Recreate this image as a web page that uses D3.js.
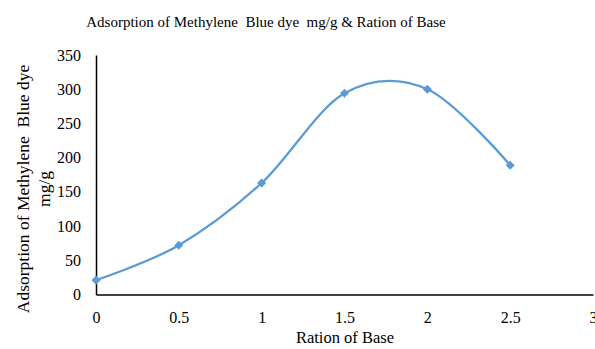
<!DOCTYPE html>
<html>
<head>
<meta charset="utf-8">
<script src="https://cdn.jsdelivr.net/npm/d3@7"></script>
<style>
  html, body { margin: 0; padding: 0; background: #fff; }
  svg { display: block; }
  text { font-family: "Liberation Serif", "Times New Roman", serif; fill: #000; }
</style>
</head>
<body>
<svg id="chart" width="595" height="349"></svg>
<script>
// Ratio of base vs. adsorbed Methylene Blue (mg/g)
const ratios = [0, 0.5, 1, 1.5, 2, 2.5];
const adsorption = [21, 72, 163, 294, 300, 189];
const xTicks = [0, 0.5, 1, 1.5, 2, 2.5, 3];
const yTicks = [0, 50, 100, 150, 200, 250, 300, 350];

const titleText = "Adsorption of Methylene\u00A0 Blue dye\u00A0 mg/g & Ration of Base";
const yTitleLines = ["Adsorption of Methylene\u00A0 Blue dye", "mg/g"];
const xTitleText = "Ration of Base";

const svg = d3.select("#chart");
const plot = { left: 96, right: 593, top: 55, bottom: 294.5 };

const x = d3.scaleLinear().domain([0, 3]).range([plot.left, plot.right]);
const y = d3.scaleLinear().domain([0, 350]).range([plot.bottom, plot.top]);

// Title
svg.append("text")
  .attr("x", 266).attr("y", 27)
  .attr("text-anchor", "middle")
  .style("font-size", "15px")
  .text(titleText);

// Y axis
const yAxis = svg.append("g")
  .attr("transform", `translate(${plot.left},0)`)
  .call(d3.axisLeft(y).tickValues(yTicks).tickSize(0).tickPadding(15));
yAxis.select(".domain").attr("stroke", "#000").attr("stroke-width", 1.5);
yAxis.selectAll("text").style("font-size", "16px")
  .style("font-family", "'Liberation Serif', serif");

// X axis
const xAxis = svg.append("g")
  .attr("transform", `translate(0,${plot.bottom})`)
  .call(d3.axisBottom(x).tickValues(xTicks).tickSize(0).tickPadding(17)
    .tickFormat(d3.format("")));
xAxis.select(".domain").attr("stroke", "#000").attr("stroke-width", 1.5);
xAxis.selectAll("text").style("font-size", "16px")
  .style("font-family", "'Liberation Serif', serif");

// Y axis title (two lines, rotated)
const yTitle = svg.append("text")
  .attr("transform", "translate(29,189) rotate(-90)")
  .attr("text-anchor", "middle")
  .style("font-size", "17.5px");
yTitle.selectAll("tspan").data(yTitleLines).join("tspan")
  .attr("x", 0).attr("dy", (d, i) => i === 0 ? 0 : 21)
  .text(d => d);

// X axis title
svg.append("text")
  .attr("x", 345).attr("y", 343)
  .attr("text-anchor", "middle")
  .style("font-size", "16.5px")
  .text(xTitleText);

// Smoothed series line
const pts = ratios.map((r, i) => [r, adsorption[i]]);
const line = d3.line()
  .x(d => x(d[0])).y(d => y(d[1]))
  .curve(d3.curveCardinal.tension(0));
svg.append("path")
  .datum(pts)
  .attr("d", line)
  .attr("fill", "none")
  .attr("stroke", "#5B9BD5")
  .attr("stroke-width", 2.25);

// Diamond markers (square rotated 45°)
svg.append("g").selectAll("rect")
  .data(pts).join("rect")
  .attr("x", -3.2).attr("y", -3.2)
  .attr("width", 6.4).attr("height", 6.4)
  .attr("transform", d => `translate(${x(d[0])},${y(d[1])}) rotate(45)`)
  .attr("fill", "#5B9BD5");
</script>
</body>
</html>
